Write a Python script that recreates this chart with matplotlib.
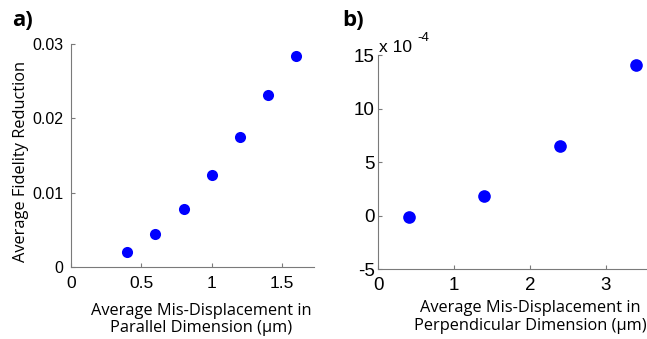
import matplotlib
matplotlib.use("Agg")
import matplotlib.pyplot as plt
import matplotlib.transforms as mt

# Data
par_x = [0.4, 0.6, 0.8, 1.0, 1.2, 1.4, 1.6]
par_y = [0.0020, 0.0044, 0.0078, 0.0123, 0.0175, 0.0231, 0.0284]
perp_x = [0.4, 1.4, 2.4, 3.4]
perp_y = [-0.1, 1.8, 6.55, 14.1]  # in units of 1e-4

a_xticks = [0, 0.5, 1, 1.5]
a_xticklabels = ["0", "0.5", "1", "1.5"]
a_yticks = [0, 0.01, 0.02, 0.03]
a_yticklabels = ["0", "0.01", "0.02", "0.03"]
b_xticks = [0, 1, 2, 3]
b_yticks = [-5, 0, 5, 10, 15]

tick_font = "Liberation Sans"
label_font = "Open Sans"
gray = "#7a7a7a"
W, H = 647, 339
LBL = 11.8

fig = plt.figure(figsize=(6.47, 3.39), dpi=100)

def px(x, y):
    return x / W, 1 - y / H

def style(ax, xpad, ypad):
    for s in ["top", "right"]:
        ax.spines[s].set_visible(False)
    for s in ["left", "bottom"]:
        ax.spines[s].set_color(gray)
        ax.spines[s].set_linewidth(0.8)
    ax.tick_params(direction="in", length=3, color=gray, width=0.8)
    ax.tick_params(axis="x", pad=xpad)
    ax.tick_params(axis="y", pad=ypad)

# Panel a
ax1 = fig.add_axes([71 / W, 1 - 267 / H, 243 / W, 223.3 / H])
ax1.plot(par_x, par_y, "o", color="#0000ff", markersize=8.0, markeredgewidth=0)
ax1.set_xlim(0, 1.728)
ax1.set_ylim(0, 0.03)
ax1.set_xticks(a_xticks)
ax1.set_xticklabels(a_xticklabels, fontsize=12.5, family=tick_font)
ax1.set_yticks(a_yticks)
ax1.set_yticklabels(a_yticklabels, fontsize=11.5, family=tick_font)
style(ax1, 6.5, 5.5)

fig.text(*px(201, 315), "Average Mis-Displacement in", fontsize=LBL,
         family=label_font, ha="center", va="baseline")
fig.text(*px(201, 332.5), "Parallel Dimension (\u03bcm)", fontsize=LBL,
         family=label_font, ha="center", va="baseline")
fig.text(*px(21, 161.5), "Average Fidelity Reduction", fontsize=LBL,
         family=label_font, ha="center", va="center", rotation=90)
fig.text(*px(12, 21), "a)", fontsize=16, fontweight="bold", family=label_font,
         va="center", ha="left")

# Panel b
ax2 = fig.add_axes([378.3 / W, 1 - 269.3 / H, 267.4 / W, 214.3 / H])
ax2.plot(perp_x, perp_y, "o", color="#0000ff", markersize=9.1, markeredgewidth=0)
ax2.set_xlim(0, 3.53)
ax2.set_ylim(-5, 15)
ax2.set_xticks(b_xticks)
ax2.set_xticklabels([str(t) for t in b_xticks], fontsize=13.5, family=tick_font)
ax2.set_yticks(b_yticks)
ax2.set_yticklabels([str(t) for t in b_yticks], fontsize=13.5, family=tick_font)
style(ax2, 5.5, 2.5)
fig.text(*px(379, 52), "x 10", fontsize=12.5, family=tick_font,
         ha="left", va="baseline")
fig.text(*px(417, 41), "-4", fontsize=9.5, family=tick_font,
         ha="left", va="baseline")

fig.text(*px(530, 312), "Average Mis-Displacement in", fontsize=LBL,
         family=label_font, ha="center", va="baseline")
fig.text(*px(530, 330), "Perpendicular Dimension (\u03bcm)", fontsize=LBL,
         family=label_font, ha="center", va="baseline")
fig.text(*px(342, 20), "b)", fontsize=16, fontweight="bold", family=label_font,
         va="center", ha="left")

fig.savefig("out.png", dpi=100)
